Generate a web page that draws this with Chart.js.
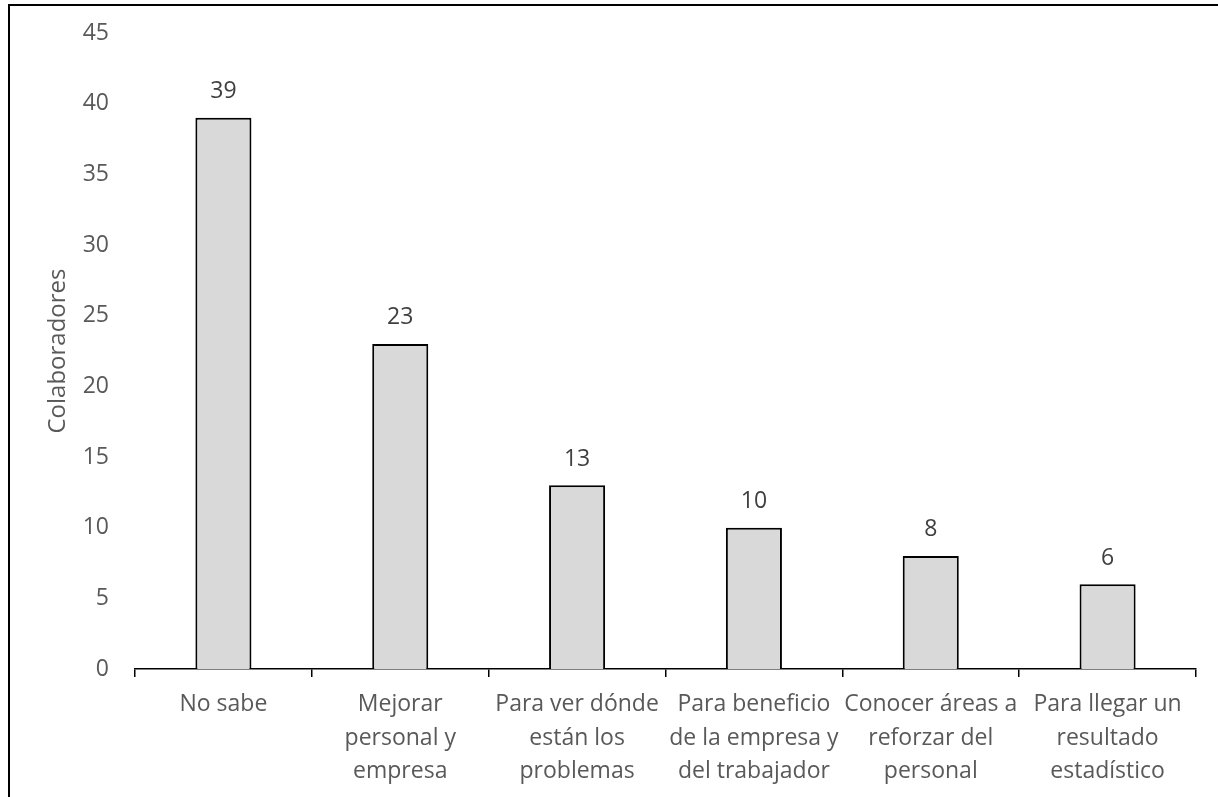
<!DOCTYPE html>
<html>
<head>
<meta charset="utf-8">
<script src="https://cdn.jsdelivr.net/npm/chart.js@4/dist/chart.umd.min.js"></script>
<style>
  html, body { margin: 0; padding: 0; background: #fff; }
  #wrap { position: relative; width: 1218px; height: 797px; }
  canvas { display: block; }
</style>
</head>
<body>
<div id="wrap"><canvas id="c" width="1218" height="797"></canvas></div>
<script>
// Respuestas agrupadas por motivo
const categories = [
  ['No sabe'],
  ['Mejorar', 'personal y', 'empresa'],
  ['Para ver dónde', 'están los', 'problemas'],
  ['Para beneficio', 'de la empresa y', 'del trabajador'],
  ['Conocer áreas a', 'reforzar del', 'personal'],
  ['Para llegar un', 'resultado', 'estadístico']
];
const colaboradores = [39, 23, 13, 10, 8, 6];
const yTicks = { min: 0, max: 45, step: 5 };
const yTitle = 'Colaboradores';

const FONT = "'Open Sans', 'DejaVu Sans', sans-serif";

// Frame lines around the chart
const framePlugin = {
  id: 'frame',
  beforeDraw(chart) {
    const ctx = chart.ctx;
    ctx.save();
    ctx.fillStyle = '#ffffff';
    ctx.fillRect(0, 0, chart.width, chart.height);
    ctx.strokeStyle = '#000000';
    ctx.lineWidth = 2;
    ctx.beginPath();
    ctx.moveTo(9, chart.height);
    ctx.lineTo(9, 5);
    ctx.lineTo(chart.width, 5);
    ctx.stroke();
    ctx.restore();
  }
};

// Value labels above each bar
const valueLabels = {
  id: 'valueLabels',
  afterDatasetsDraw(chart) {
    const ctx = chart.ctx;
    const meta = chart.getDatasetMeta(0);
    const data = chart.data.datasets[0].data;
    ctx.save();
    ctx.font = '23px ' + FONT;
    ctx.fillStyle = '#404040';
    ctx.textAlign = 'center';
    ctx.textBaseline = 'middle';
    meta.data.forEach((bar, i) => {
      ctx.fillText(String(data[i]), bar.x, bar.y - 26);
    });
    ctx.restore();
  }
};

new Chart(document.getElementById('c'), {
  type: 'bar',
  data: {
    labels: categories,
    datasets: [{
      data: colaboradores,
      backgroundColor: '#d9d9d9',
      borderColor: '#000000',
      borderWidth: 2,
      categoryPercentage: 1,
      barPercentage: 0.317
    }]
  },
  options: {
    responsive: false,
    animation: false,
    devicePixelRatio: 1,
    layout: { padding: { top: 0, right: 22, bottom: 0, left: 0 } },
    plugins: {
      legend: { display: false },
      tooltip: { enabled: false }
    },
    scales: {
      x: {
        offset: true,
        grid: {
          offset: true,
          drawOnChartArea: false,
          drawTicks: true,
          tickLength: 8,
          color: '#000000',
          lineWidth: 1.5
        },
        border: { display: true, color: '#000000', width: 1.5 },
        ticks: {
          autoSkip: false,
          maxRotation: 0,
          minRotation: 0,
          padding: 11,
          color: '#595959',
          font: { family: FONT, size: 23, lineHeight: 1.45 }
        },
        afterFit(scale) { scale.height = 128; }
      },
      y: {
        min: yTicks.min,
        max: yTicks.max,
        grid: { display: false, drawTicks: false },
        border: { display: false },
        ticks: {
          stepSize: yTicks.step,
          padding: 26,
          color: '#595959',
          font: { family: FONT, size: 23 }
        },
        title: {
          display: true,
          text: yTitle,
          color: '#595959',
          font: { family: FONT, size: 24 },
          padding: { top: 44, bottom: 0 }
        },
        afterFit(scale) {
          scale.width = 135;
          scale.paddingTop = 33;
        }
      }
    }
  },
  plugins: [framePlugin, valueLabels]
});
</script>
</body>
</html>
